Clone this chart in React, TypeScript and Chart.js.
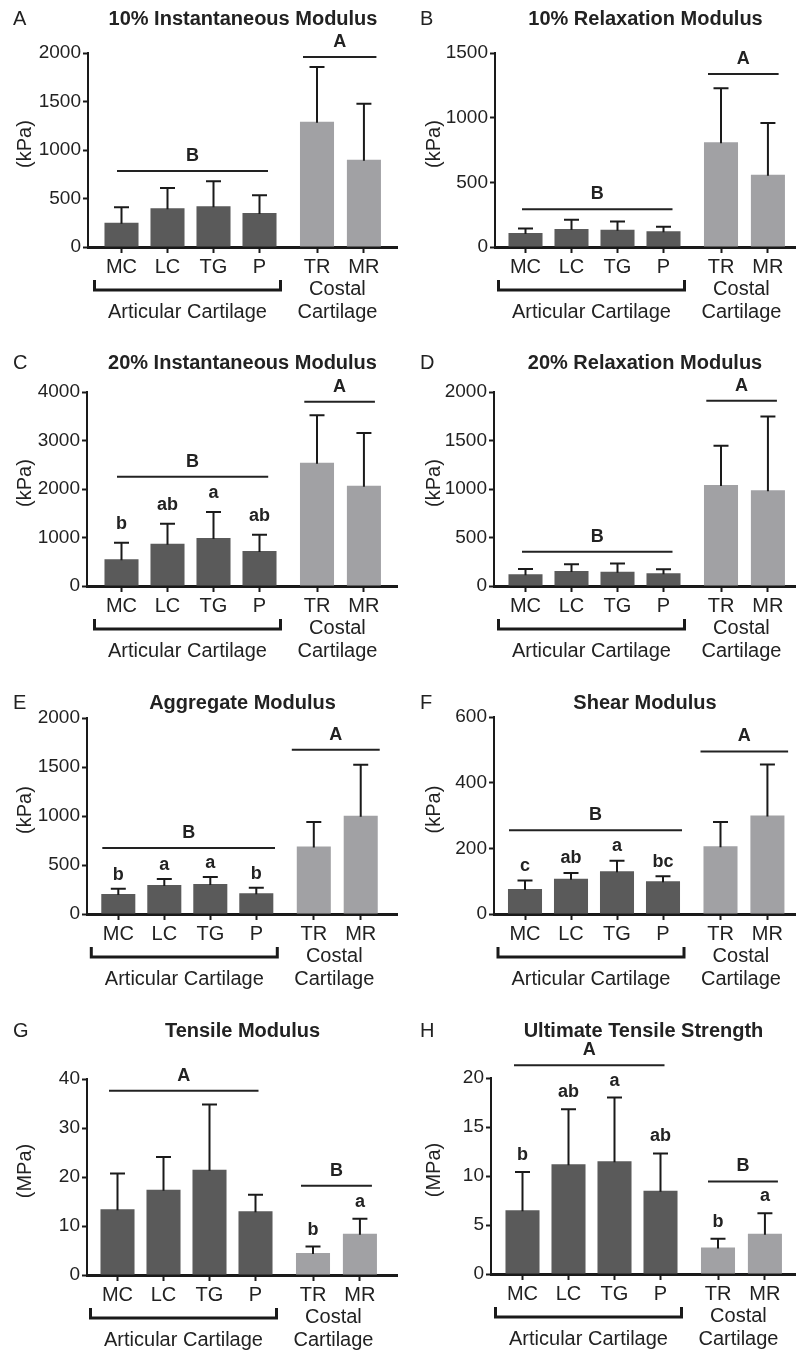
import React, { useEffect, useRef } from "react";
import { Chart, registerables } from "chart.js";

Chart.register(...registerables);

// ---------- data ----------
const categories = ["MC", "LC", "TG", "P", "TR", "MR"];
const categoryPositions = [1, 2, 3, 4, 5.25, 6.27];

const instant10Mean = [250, 399, 419, 351, 1292, 900];
const instant10SD = [159, 209, 258, 182, 564, 578];
const instant10Group = [783, 1959];

const relax10Mean = [108, 139, 134, 121, 809, 559];
const relax10SD = [36, 72, 64, 36, 418, 400];
const relax10Group = [291, 1338];

const instant20Mean = [550, 873, 990, 722, 2543, 2069];
const instant20SD = [343, 412, 536, 336, 976, 1086];
const instant20Group = [2254, 3800];
const instant20Letters = ["b", "ab", "a", "ab", "", ""];

const relax20Mean = [121, 155, 148, 131, 1041, 986];
const relax20SD = [55, 69, 83, 41, 404, 762];
const relax20Group = [352, 1910];

const aggregateMean = [204, 296, 306, 211, 690, 1003];
const aggregateSD = [54, 61, 72, 58, 249, 521];
const aggregateGroup = [673, 1677];
const aggregateLetters = ["b", "a", "a", "b", "", ""];

const shearMean = [76, 107, 130, 100, 206, 300];
const shearSD = [26, 18, 32, 15, 74, 155];
const shearGroup = [255, 495];
const shearLetters = ["c", "ab", "a", "bc", "", ""];

const tensileMean = [13.4, 17.4, 21.5, 13.0, 4.5, 8.4];
const tensileSD = [7.3, 6.7, 13.3, 3.4, 1.3, 3.1];
const tensileGroup = [37.6, 18.2];
const tensileLetters = ["", "", "", "", "b", "a"];

const utsMean = [6.5, 11.2, 11.5, 8.5, 2.7, 4.1];
const utsSD = [3.9, 5.6, 6.5, 3.8, 0.9, 2.1];
const utsGroup = [21.3, 9.44];
const utsLetters = ["b", "ab", "a", "ab", "b", "a"];

const groupLettersKPa = ["B", "A"];
const groupLettersMPa = ["A", "B"];
const noLetters = ["", "", "", "", "", ""];

// ---------- styling ----------
const FONT = "'Liberation Sans', Arial, Helvetica, sans-serif";
const DARK = "#5a5a5a";
const LIGHT = "#a1a1a4";
const INK = "#1a1a1a";
const TEXT = "#222222";
const PX_PER_UNIT = 46;

type PanelCfg = {
  letter: string;
  title: string;
  unit: string;
  means: number[];
  sds: number[];
  letters: string[];
  group: number[];
  groupLabels: string[];
  yMax: number;
  yStep: number;
  x: number;
  y: number;
  h: number;
  plotLeft: number;
  plotTop: number;
  plotBottom: number;
  mcOff: number;
  titleY: number;
  artExt: number[];
  cosExt: number[];
  letterGap: number;
};

const W = 398;
const rows = [
  { y: 0, h: 332, titleY: 19 },
  { y: 332, h: 333, titleY: 363 },
  { y: 665, h: 335, titleY: 703 },
  { y: 1000, h: 351, titleY: 1031 },
];

const panels: PanelCfg[] = [
  {
    letter: "A", title: "10% Instantaneous Modulus", unit: "(kPa)",
    means: instant10Mean, sds: instant10SD, letters: noLetters,
    group: instant10Group, groupLabels: groupLettersKPa, yMax: 2000, yStep: 500,
    x: 0, y: rows[0].y, h: rows[0].h, titleY: rows[0].titleY,
    plotLeft: 88, plotTop: 53, plotBottom: 247, mcOff: 33.5,
    artExt: [-4.5, 8.5], cosExt: [-14, 12.5], letterGap: 17,
  },
  {
    letter: "B", title: "10% Relaxation Modulus", unit: "(kPa)",
    means: relax10Mean, sds: relax10SD, letters: noLetters,
    group: relax10Group, groupLabels: groupLettersKPa, yMax: 1500, yStep: 500,
    x: 398, y: rows[0].y, h: rows[0].h, titleY: rows[0].titleY,
    plotLeft: 495, plotTop: 53, plotBottom: 247, mcOff: 30.5,
    artExt: [-3.5, 9], cosExt: [-13, 10.7], letterGap: 17,
  },
  {
    letter: "C", title: "20% Instantaneous Modulus", unit: "(kPa)",
    means: instant20Mean, sds: instant20SD, letters: instant20Letters,
    group: instant20Group, groupLabels: groupLettersKPa, yMax: 4000, yStep: 1000,
    x: 0, y: rows[1].y, h: rows[1].h, titleY: rows[1].titleY,
    plotLeft: 87, plotTop: 392, plotBottom: 586, mcOff: 34.5,
    artExt: [-4.5, 8.7], cosExt: [-12.7, 11], letterGap: 19,
  },
  {
    letter: "D", title: "20% Relaxation Modulus", unit: "(kPa)",
    means: relax20Mean, sds: relax20SD, letters: noLetters,
    group: relax20Group, groupLabels: groupLettersKPa, yMax: 2000, yStep: 500,
    x: 398, y: rows[1].y, h: rows[1].h, titleY: rows[1].titleY,
    plotLeft: 494, plotTop: 392, plotBottom: 586, mcOff: 31.5,
    artExt: [-3.5, 9], cosExt: [-14.7, 9], letterGap: 17,
  },
  {
    letter: "E", title: "Aggregate Modulus", unit: "(kPa)",
    means: aggregateMean, sds: aggregateSD, letters: aggregateLetters,
    group: aggregateGroup, groupLabels: groupLettersKPa, yMax: 2000, yStep: 500,
    x: 0, y: rows[2].y, h: rows[2].h, titleY: rows[2].titleY,
    plotLeft: 87, plotTop: 718, plotBottom: 914, mcOff: 31.3,
    artExt: [-16, 18.7], cosExt: [-22, 19], letterGap: 14,
  },
  {
    letter: "F", title: "Shear Modulus", unit: "(kPa)",
    means: shearMean, sds: shearSD, letters: shearLetters,
    group: shearGroup, groupLabels: groupLettersKPa, yMax: 600, yStep: 200,
    x: 398, y: rows[2].y, h: rows[2].h, titleY: rows[2].titleY,
    plotLeft: 494, plotTop: 717, plotBottom: 914, mcOff: 31,
    artExt: [-16, 19], cosExt: [-20, 20.7], letterGap: 14.5,
  },
  {
    letter: "G", title: "Tensile Modulus", unit: "(MPa)",
    means: tensileMean, sds: tensileSD, letters: tensileLetters,
    group: tensileGroup, groupLabels: groupLettersMPa, yMax: 40, yStep: 10,
    x: 0, y: rows[3].y, h: rows[3].h, titleY: rows[3].titleY,
    plotLeft: 87, plotTop: 1079, plotBottom: 1275, mcOff: 30.5,
    artExt: [-8.5, 3], cosExt: [-12, 12], letterGap: 17,
  },
  {
    letter: "H", title: "Ultimate Tensile Strength", unit: "(MPa)",
    means: utsMean, sds: utsSD, letters: utsLetters,
    group: utsGroup, groupLabels: groupLettersMPa, yMax: 20, yStep: 5,
    x: 398, y: rows[3].y, h: rows[3].h, titleY: rows[3].titleY,
    plotLeft: 491, plotTop: 1078, plotBottom: 1274, mcOff: 31.5,
    artExt: [-8.5, 4], cosExt: [-10, 13], letterGap: 17,
  },
];

function makeAnnotations(cfg: PanelCfg) {
  return {
    id: "annot" + cfg.letter,
    afterDatasetsDraw(chart: any) {
      const ctx = chart.ctx as CanvasRenderingContext2D;
      const xs = chart.scales.x;
      const ys = chart.scales.y;
      ctx.save();
      ctx.strokeStyle = INK;
      ctx.lineWidth = 2;
      cfg.means.forEach((m, i) => {
        const px = xs.getPixelForValue(categoryPositions[i]);
        const y0 = ys.getPixelForValue(m);
        const y1 = ys.getPixelForValue(m + cfg.sds[i]);
        ctx.beginPath();
        ctx.moveTo(px, y0 + 1);
        ctx.lineTo(px, y1);
        ctx.moveTo(px - 7.5, y1);
        ctx.lineTo(px + 7.5, y1);
        ctx.stroke();
      });
      ctx.restore();
    },
    afterDraw(chart: any) {
      const ctx = chart.ctx as CanvasRenderingContext2D;
      const xs = chart.scales.x;
      const ys = chart.scales.y;
      const ca = chart.chartArea;
      const px = (i: number) => xs.getPixelForValue(categoryPositions[i]);
      ctx.save();

      // panel letter
      ctx.fillStyle = TEXT;
      ctx.textBaseline = "middle";
      ctx.textAlign = "left";
      ctx.font = `20px ${FONT}`;
      ctx.fillText(cfg.letter, cfg.x === 0 ? 13 : 22, cfg.titleY - cfg.y);

      // title
      ctx.textAlign = "center";
      ctx.font = `bold 20px ${FONT}`;
      ctx.fillText(cfg.title, (ca.left + ca.right) / 2, cfg.titleY - cfg.y);

      // y-axis title
      ctx.save();
      ctx.font = `20px ${FONT}`;
      ctx.translate(cfg.x === 0 ? 25 : 36, (ca.top + ca.bottom) / 2 - 6);
      ctx.rotate(-Math.PI / 2);
      ctx.fillText(cfg.unit, 0, 0);
      ctx.restore();

      // group significance lines
      ctx.strokeStyle = "#222";
      ctx.lineWidth = 2;
      const groups = [
        { a: 0, b: 3, ext: cfg.artExt },
        { a: 4, b: 5, ext: cfg.cosExt },
      ];
      ctx.font = `bold 18px ${FONT}`;
      groups.forEach((g, gi) => {
        const x1 = px(g.a) + g.ext[0];
        const x2 = px(g.b) + g.ext[1];
        const yy = ys.getPixelForValue(cfg.group[gi]);
        ctx.beginPath();
        ctx.moveTo(x1, yy);
        ctx.lineTo(x2, yy);
        ctx.stroke();
        ctx.fillText(cfg.groupLabels[gi], (x1 + x2) / 2, yy - 15);
      });

      // per-bar letters
      cfg.letters.forEach((l, i) => {
        if (!l) return;
        const yTop = ys.getPixelForValue(cfg.means[i] + cfg.sds[i]);
        ctx.fillText(l, px(i), yTop - cfg.letterGap);
      });

      // bracket under articular cartilage
      const bx1 = px(0) - 27;
      const bx2 = px(3) + 21;
      const by = ca.bottom + 43;
      ctx.strokeStyle = INK;
      ctx.lineWidth = 3;
      ctx.lineJoin = "miter";
      ctx.lineCap = "butt";
      ctx.beginPath();
      ctx.moveTo(bx1, by - 10);
      ctx.lineTo(bx1, by);
      ctx.lineTo(bx2, by);
      ctx.lineTo(bx2, by - 10);
      ctx.stroke();

      ctx.font = `20px ${FONT}`;
      ctx.fillStyle = TEXT;
      ctx.fillText("Articular Cartilage", (bx1 + bx2) / 2, ca.bottom + 65);
      const cx = (px(4) + px(5)) / 2 - 3;
      ctx.fillText("Costal", cx, ca.bottom + 42);
      ctx.fillText("Cartilage", cx, ca.bottom + 65);

      ctx.restore();
    },
  };
}

function Panel({ cfg }: { cfg: PanelCfg }) {
  const ref = useRef<HTMLCanvasElement>(null);
  useEffect(() => {
    const canvas = ref.current;
    if (!canvas) return;
    const plotWidth = cfg.x + W - cfg.plotLeft;
    const xMin = 1 - cfg.mcOff / PX_PER_UNIT;
    const xMax = xMin + plotWidth / PX_PER_UNIT;
    const chart = new Chart(canvas, {
      type: "bar",
      data: {
        datasets: [
          {
            data: cfg.means.map((m, i) => ({ x: categoryPositions[i], y: m })) as any,
            backgroundColor: cfg.means.map((_, i) => (i < 4 ? DARK : LIGHT)),
            borderWidth: 0,
            barPercentage: 0.74,
            categoryPercentage: 1,
          },
        ],
      },
      options: {
        responsive: false,
        animation: false,
        devicePixelRatio: 1,
        layout: { padding: { top: cfg.plotTop - cfg.y, left: 0, right: 0, bottom: 0 } },
        plugins: {
          legend: { display: false },
          tooltip: { enabled: false },
          title: { display: false },
        },
        scales: {
          x: {
            type: "linear",
            min: xMin,
            max: xMax,
            offset: false,
            afterBuildTicks: (s: any) => {
              s.ticks = categoryPositions.map((v) => ({ value: v }));
            },
            afterFit: (s: any) => {
              s.height = cfg.y + cfg.h - cfg.plotBottom;
            },
            ticks: {
              autoSkip: false,
              maxRotation: 0,
              padding: 2,
              color: TEXT,
              font: { family: FONT, size: 20 },
              callback: (v: any) => {
                const idx = categoryPositions.indexOf(Number(v));
                return idx >= 0 ? categories[idx] : "";
              },
            },
            grid: {
              display: true,
              offset: false,
              drawOnChartArea: false,
              drawTicks: true,
              tickLength: 6,
              tickWidth: 2,
              tickColor: INK,
            },
            border: { display: true, color: INK, width: 3 },
          },
          y: {
            type: "linear",
            min: 0,
            max: cfg.yMax,
            afterFit: (s: any) => {
              s.width = cfg.plotLeft - cfg.x;
            },
            ticks: {
              stepSize: cfg.yStep,
              padding: 2,
              color: TEXT,
              font: { family: FONT, size: 19 },
              callback: (v: any) => String(v),
            },
            grid: {
              display: true,
              offset: false,
              drawOnChartArea: false,
              drawTicks: true,
              tickLength: 5,
              tickWidth: 2,
              tickColor: INK,
            },
            border: { display: true, color: INK, width: 2 },
          },
        },
      } as any,
      plugins: [makeAnnotations(cfg)],
    });
    return () => chart.destroy();
  }, [cfg]);
  return (
    <canvas
      ref={ref}
      width={W}
      height={cfg.h}
      style={{ position: "absolute", left: cfg.x, top: cfg.y, width: W, height: cfg.h }}
    />
  );
}

export default function App() {
  return (
    <div
      style={{
        position: "absolute",
        left: 0,
        top: 0,
        width: 796,
        height: 1351,
        background: "#ffffff",
        overflow: "hidden",
      }}
    >
      {panels.map((p) => (
        <Panel key={p.letter} cfg={p} />
      ))}
    </div>
  );
}
